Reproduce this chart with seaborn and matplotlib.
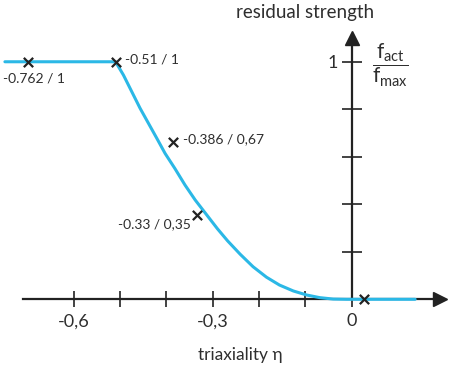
import matplotlib
matplotlib.use("Agg")
import matplotlib.pyplot as plt
import seaborn as sns
import pandas as pd

sns.set_style("white")
plt.rcParams["font.family"] = ["Lato", "DejaVu Sans"]
plt.rcParams["mathtext.fontset"] = "custom"
plt.rcParams["mathtext.rm"] = "Lato"
plt.rcParams["mathtext.it"] = "Lato"
plt.rcParams["mathtext.sf"] = "Lato"

# residual strength curve (triaxiality eta -> f_act/f_max)
eta = [-0.749, -0.510, -0.493, -0.475, -0.457, -0.439, -0.421, -0.403,
       -0.382, -0.360, -0.338, -0.313, -0.290, -0.268, -0.241, -0.213,
       -0.184, -0.156, -0.126, -0.097, -0.069, -0.040, -0.011, 0.137]
strength = [1.0, 1.0, 0.944, 0.874, 0.804, 0.741, 0.678, 0.614,
            0.551, 0.481, 0.418, 0.355, 0.297, 0.246, 0.190, 0.137,
            0.093, 0.060, 0.035, 0.018, 0.007, 0.001, 0.0, 0.0]

# marked points (drawn positions) and their labels
pt_eta = [-0.699, -0.51, -0.385, -0.335, 0.026]
pt_val = [1.0, 1.0, 0.664, 0.353, 0.0]
pt_labels = ["-0.762 / 1", "-0.51 / 1", "-0.386 / 0,67", "-0.33 / 0,35", ""]

xticks = [-0.6, -0.5, -0.4, -0.3, -0.2, -0.1, 0.0]
xticklabels = ["-0,6", "", "", "-0,3", "", "", "0"]
yticks = [0.2, 0.4, 0.6, 0.8, 1.0]
yticklabels = ["", "", "", "", "1"]

curve = pd.DataFrame({"eta": eta, "strength": strength})
points = pd.DataFrame({"eta": pt_eta, "strength": pt_val})

AX = "#222222"
TXT = "#2e2e2e"
CYAN = "#2bb8e6"

fig = plt.figure(figsize=(4.5, 3.67), dpi=100)
ax = fig.add_axes([0, 0, 1, 1])
ax.set_xlim(-0.7596, 0.2123)
ax.set_ylim(-0.285, 1.260)

# axes through origin
for s in ["top", "right"]:
    ax.spines[s].set_visible(False)
ax.spines["bottom"].set_position(("data", 0))
ax.spines["left"].set_position(("data", 0))
ax.spines["bottom"].set_bounds(-0.71, 0.19)
ax.spines["left"].set_bounds(0, 1.10)
for s in ["bottom", "left"]:
    ax.spines[s].set_color(AX)
    ax.spines[s].set_linewidth(1.6)
    ax.spines[s].set_zorder(1)

ax.set_xticks(xticks)
ax.set_xticklabels(xticklabels)
ax.set_yticks(yticks)
ax.set_yticklabels(yticklabels)
ax.tick_params(axis="x", bottom=True, direction="inout", length=12, width=1.2,
               color=AX, labelsize=13, labelcolor=TXT, pad=4)
ax.tick_params(axis="y", left=True, direction="inout", length=14, width=1.2,
               color=AX, labelsize=13, labelcolor=TXT, pad=3)

# arrow heads
ax.plot([0.19], [0], marker=">", color=AX, markersize=10, clip_on=False)
ax.plot([0], [1.10], marker="^", color=AX, markersize=10, clip_on=False)

sns.lineplot(data=curve, x="eta", y="strength", color=CYAN, linewidth=2.2,
             estimator=None, sort=False, ax=ax, zorder=3)
sns.scatterplot(data=points, x="eta", y="strength", marker="x", color="#222222",
                s=45, linewidth=1.6, ax=ax, zorder=4)

offsets = [(4, -12, "center"), (7, 1.5, "left"), (7, 1.5, "left"), (-4, -6, "right"), (0, 0, "left")]
for xv, yv, lab, (dx, dy, ha) in zip(pt_eta, pt_val, pt_labels, offsets):
    if lab:
        ax.annotate(lab, (xv, yv), xytext=(dx, dy), textcoords="offset points",
                    ha=ha, va="center", fontsize=10, color=TXT)

ax.set_xlabel("")
ax.set_ylabel("")
fig.text(0.678, 0.967, "residual strength", ha="center", va="center",
         fontsize=13.5, color=TXT)
fig.text(0.533, 0.033, "triaxiality η", ha="center", va="center",
         fontsize=12.5, color=TXT, family=["Lato", "DejaVu Sans"])
ax.text(0.083, 0.986, r"$\dfrac{\mathrm{f}_{\mathrm{act}}}{\mathrm{f}_{\mathrm{max}}}$",
        ha="center", va="center", fontsize=15, color=TXT)

fig.savefig("out.png", dpi=100)
